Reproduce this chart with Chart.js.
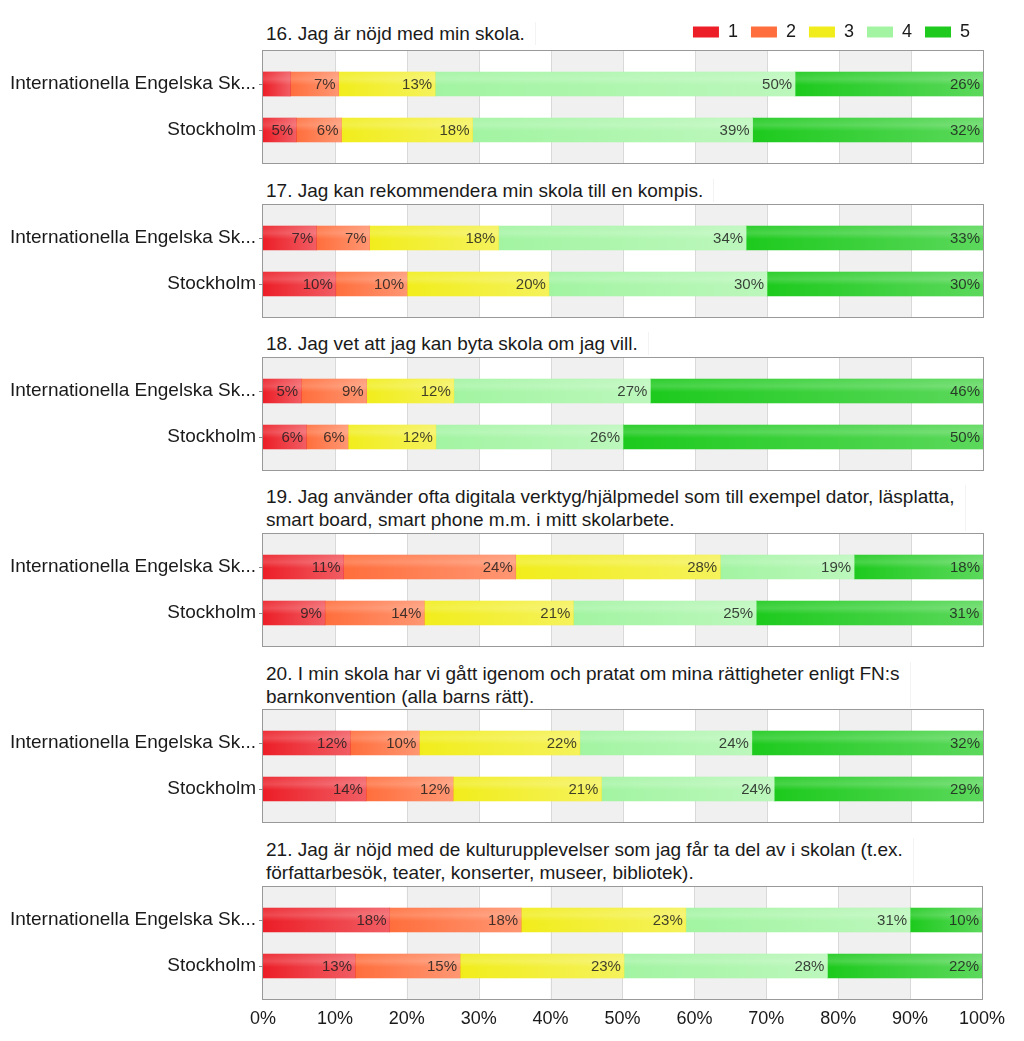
<!DOCTYPE html>
<html><head><meta charset="utf-8">
<script src="https://cdn.jsdelivr.net/npm/chart.js@4/dist/chart.umd.min.js"></script>
<style>
html,body{margin:0;padding:0;background:#fff;}
body{width:1024px;height:1041px;position:relative;overflow:hidden;font-family:"Liberation Sans",Arial,sans-serif;}
.title{position:absolute;left:266px;font-size:19px;line-height:23px;color:#1a1a1a;white-space:nowrap;padding-right:10px;border-right:1px solid #f3f3f3;}
canvas{position:absolute;left:0;}
</style></head><body>
<script>
// ---------- data ----------
const categories = ["Internationella Engelska Sk...", "Stockholm"];
const seriesNames = ["1", "2", "3", "4", "5"];
const xTickValues = [0, 10, 20, 30, 40, 50, 60, 70, 80, 90, 100];

const titles = [
  "16. Jag är nöjd med min skola.",
  "17. Jag kan rekommendera min skola till en kompis.",
  "18. Jag vet att jag kan byta skola om jag vill.",
  "19. Jag använder ofta digitala verktyg/hjälpmedel som till exempel dator, läsplatta,\nsmart board, smart phone m.m. i mitt skolarbete.",
  "20. I min skola har vi gått igenom och pratat om mina rättigheter enligt FN:s\nbarnkonvention (alla barns rätt).",
  "21. Jag är nöjd med de kulturupplevelser som jag får ta del av i skolan (t.ex.\nförfattarbesök, teater, konserter, museer, bibliotek)."
];

// percentages per answer 1..5
const q16IES   = [3.8, 6.7, 13.4, 50.0, 26.1];
const q16Sthlm = [4.6, 6.3, 18.2, 38.9, 32.0];
const q17IES   = [7.4, 7.4, 17.9, 34.4, 32.9];
const q17Sthlm = [10.1, 9.9, 19.7, 30.3, 30.0];
const q18IES   = [5.3, 9.1, 12.1, 27.3, 46.2];
const q18Sthlm = [6.0, 5.8, 12.2, 26.0, 50.0];
const q19IES   = [11.2, 23.9, 28.4, 18.6, 17.9];
const q19Sthlm = [8.6, 13.8, 20.7, 25.4, 31.4];
const q20IES   = [12.1, 9.6, 22.3, 23.9, 32.1];
const q20Sthlm = [14.3, 12.1, 20.6, 24.0, 29.0];
const q21IES   = [17.6, 18.3, 22.9, 31.2, 10.0];
const q21Sthlm = [12.8, 14.6, 22.8, 28.3, 21.5];

const panelData = [
  [q16IES, q16Sthlm], [q17IES, q17Sthlm], [q18IES, q18Sthlm],
  [q19IES, q19Sthlm], [q20IES, q20Sthlm], [q21IES, q21Sthlm]
];

// ---------- style ----------
const seriesColors = ['#ec1e27', '#ff6e3c', '#f1ed1c', '#a2f4a2', '#1dca1d'];
const FONT = '"Liberation Sans", Arial, sans-serif';
Chart.defaults.font.family = FONT;

const boxTops = [50, 204, 357, 533, 709, 886];
const titleTops = [22, 179, 332, 485, 662, 838];
const BOX_PAD = 11;
const X_AXIS_H = 41;

const panelFrame = {
  id: 'panelFrame',
  beforeDraw(chart) {
    const {ctx, chartArea: a, scales: {x}} = chart;
    const top = Math.round(a.top - BOX_PAD), bottom = Math.round(a.bottom + BOX_PAD);
    ctx.save();
    for (let i = 0; i < xTickValues.length - 1; i++) {
      if (i % 2 === 0) {
        const x0 = x.getPixelForValue(xTickValues[i]);
        const x1 = x.getPixelForValue(xTickValues[i + 1]);
        ctx.fillStyle = '#f0f0f0';
        ctx.fillRect(x0, top, x1 - x0, bottom - top);
      }
    }
    ctx.strokeStyle = '#d9d9d9';
    ctx.lineWidth = 1;
    for (let i = 1; i < xTickValues.length - 1; i++) {
      const px = Math.round(x.getPixelForValue(xTickValues[i])) + 0.5;
      ctx.beginPath(); ctx.moveTo(px, top); ctx.lineTo(px, bottom); ctx.stroke();
    }
    ctx.strokeStyle = '#999999';
    const l = Math.round(a.left) - 0.5, r = Math.round(a.right) + 0.5;
    ctx.strokeRect(l, top + 0.5, r - l, bottom - top - 1);
    ctx.restore();
  }
};

const barDecor = {
  id: 'barDecor',
  afterDatasetsDraw(chart) {
    const ctx = chart.ctx;
    ctx.save();
    chart.data.datasets.forEach((ds, di) => {
      const meta = chart.getDatasetMeta(di);
      meta.data.forEach((el, idx) => {
        const {x, y, base, height} = el.getProps(['x', 'y', 'base', 'height'], true);
        const left = Math.min(x, base), w = Math.abs(x - base), top = y - height / 2;
        if (w <= 0) return;
        let g = ctx.createLinearGradient(left, 0, left + w, 0);
        g.addColorStop(0, 'rgba(255,255,255,0)');
        g.addColorStop(1, 'rgba(255,255,255,0.28)');
        ctx.fillStyle = g; ctx.fillRect(left, top, w, height);
        g = ctx.createLinearGradient(0, top, 0, top + height);
        g.addColorStop(0, 'rgba(255,255,255,0.08)');
        g.addColorStop(0.3, 'rgba(255,255,255,0.18)');
        g.addColorStop(0.55, 'rgba(255,255,255,0)');
        g.addColorStop(1, 'rgba(255,255,255,0)');
        ctx.fillStyle = g; ctx.fillRect(left, top, w, height);
        const v = ds.data[idx];
        if (Math.round(v) >= 5) {
          ctx.font = '15px ' + FONT;
          ctx.fillStyle = 'rgba(30,30,30,0.85)';
          ctx.textAlign = 'right';
          ctx.textBaseline = 'middle';
          ctx.fillText(Math.round(v) + '%', Math.max(x, base) - 3, y + 1);
        }
      });
    });
    ctx.restore();
  }
};

const legendGap = {
  id: 'legendGap',
  beforeUpdate(chart) {
    const lg = chart.legend;
    if (!lg || lg._gapPatched || !chart.options.plugins.legend.display) return;
    const orig = lg.fit;
    lg.fit = function () { orig.call(this); if (this.options.display) this.height += 10; };
    lg._gapPatched = true;
  }
};

panelData.forEach((pair, p) => {
  const isFirst = p === 0, isLast = p === panelData.length - 1;
  const t = document.createElement('div');
  t.className = 'title';
  t.style.top = titleTops[p] + 'px';
  t.innerHTML = titles[p].split('\n').join('<br>');
  document.body.appendChild(t);

  const cv = document.createElement('canvas');
  let canvasTop, h, padTop, padBottom;
  if (isFirst) { canvasTop = 0; padTop = 10; h = boxTops[p] + 114; padBottom = BOX_PAD; }
  else if (isLast) { canvasTop = boxTops[p]; padTop = BOX_PAD; h = 1041 - boxTops[p]; padBottom = h - 103 - X_AXIS_H; }
  else { canvasTop = boxTops[p]; padTop = BOX_PAD; h = 114; padBottom = BOX_PAD; }
  cv.width = 1024; cv.height = h;
  cv.style.top = canvasTop + 'px';
  cv.style.width = '1024px'; cv.style.height = h + 'px';
  document.body.appendChild(cv);

  const xScale = {
    stacked: true, min: 0, max: 100, display: isLast,
    afterBuildTicks: s => { s.ticks = xTickValues.map(v => ({ value: v })); },
    grid: { display: false, drawTicks: false },
    border: { display: false },
    ticks: { padding: 19, font: { size: 18 }, color: '#1a1a1a', maxRotation: 0, autoSkip: false, callback: v => v + '%' }
  };
  if (isLast) xScale.afterFit = s => { s.height = X_AXIS_H; };

  new Chart(cv, {
    type: 'bar',
    data: {
      labels: categories,
      datasets: seriesNames.map((name, i) => ({
        label: name,
        data: [pair[0][i], pair[1][i]],
        backgroundColor: seriesColors[i],
        borderWidth: 0,
        barThickness: 24
      }))
    },
    options: {
      indexAxis: 'y',
      responsive: false,
      animation: false,
      devicePixelRatio: 1,
      layout: { padding: { top: padTop, bottom: padBottom, left: 0, right: 41 } },
      scales: {
        x: xScale,
        y: {
          stacked: true, offset: true,
          grid: { display: true, drawOnChartArea: false, drawTicks: true, tickLength: 4, offset: false, color: '#8c8c8c' },
          border: { display: false },
          ticks: { padding: 3, font: { size: 19 }, color: '#1a1a1a' },
          afterFit: s => { s.width = 263; s.paddingTop = 0; s.paddingBottom = 0; }
        }
      },
      plugins: {
        legend: {
          display: isFirst, position: 'top', align: 'end',
          labels: { boxWidth: 26, boxHeight: 11, padding: 13, font: { size: 18 }, color: '#1a1a1a' }
        },
        tooltip: { enabled: false }
      }
    },
    plugins: [legendGap, panelFrame, barDecor]
  });
});
</script>
</body></html>
